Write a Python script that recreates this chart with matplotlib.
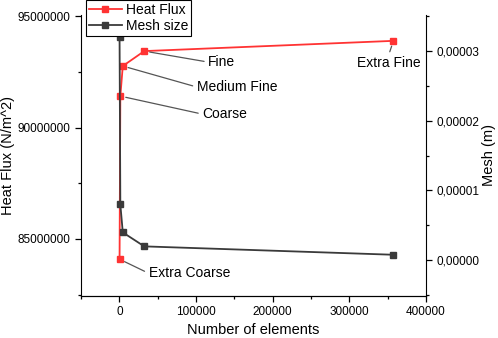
import matplotlib
matplotlib.use("Agg")
import matplotlib.pyplot as plt
from matplotlib.ticker import MultipleLocator, FuncFormatter

plt.rcParams['font.family'] = ['Liberation Sans', 'DejaVu Sans']

elements = [300, 1300, 4500, 32500, 357500]
heat_flux = [84090000, 91410000, 92760000, 93430000, 93890000]
mesh_size = [3.19e-5, 8.0e-6, 4.0e-6, 2.0e-6, 8.0e-7]
labels = ["Extra Coarse", "Coarse", "Medium Fine", "Fine", "Extra Fine"]

fig = plt.figure(figsize=(4.98, 3.38), dpi=100)
ax = fig.add_axes([81/498, 1-296/338, (426-81)/498, (296-15)/338])
ax2 = ax.twinx()

red = '#ff3333'
gray = '#3a3a3a'
l1, = ax.plot(elements, heat_flux, '-s', color=red, lw=1.3, ms=5, label='Heat Flux', zorder=3)
l2, = ax2.plot(elements, mesh_size, '-s', color=gray, lw=1.3, ms=5, label='Mesh size', zorder=3)

ax.set_xlim(-50000, 400000)
ax.set_ylim(82440000, 95050000)
ax2.set_ylim(-5.1e-6, 3.51e-5)

ax.xaxis.set_major_locator(MultipleLocator(100000))
ax.xaxis.set_minor_locator(MultipleLocator(50000))
ax.yaxis.set_major_locator(MultipleLocator(5000000))
ax.yaxis.set_minor_locator(MultipleLocator(2500000))
ax2.yaxis.set_major_locator(MultipleLocator(1e-5))
ax2.yaxis.set_minor_locator(MultipleLocator(5e-6))

ax.xaxis.set_major_formatter(FuncFormatter(lambda v, p: f"{v:.0f}"))
ax.yaxis.set_major_formatter(FuncFormatter(lambda v, p: f"{v:.0f}"))
ax2.yaxis.set_major_formatter(FuncFormatter(lambda v, p: f"{v:.5f}".replace('.', ',').replace('-', '')))

for a in (ax, ax2):
    a.spines['top'].set_visible(False)
    a.tick_params(which='both', direction='out', labelsize=8.5, width=0.9)
    a.tick_params(which='major', length=4)
    a.tick_params(which='minor', length=2.5)
ax2.spines['left'].set_visible(False)
ax.spines['right'].set_visible(False)

ax.set_xlabel('Number of elements', fontsize=10.5, labelpad=3)
ax.set_ylabel('Heat Flux (N/m^2)', fontsize=10.5, labelpad=2)
ax2.set_ylabel('Mesh (m)', fontsize=10.5, labelpad=2)

# annotations (offsets in pixels from the data point)
def px_to_pt(v):
    return v * 72 / 100

ann = [
    (0, (148-119, 273-259), (0, 0.5), 'left', 'center'),
    (1, (202-120, 114-96), (0, 0.5), 'left', 'center'),
    (2, (197-123, 87-66), (0, 0.5), 'left', 'center'),
    (3, (208-144, 62-51), (0, 0.5), 'left', 'center'),
    (4, (389-394, 56-41), (0.5, 1), 'center', 'top'),
]
for i, (dx, dy), rel, ha, va in ann:
    ax.annotate(labels[i], xy=(elements[i], heat_flux[i]),
                xytext=(px_to_pt(dx), -px_to_pt(dy)), textcoords='offset points',
                ha=ha, va=va, fontsize=10,
                arrowprops=dict(arrowstyle='-', color='#555555', lw=0.9,
                                relpos=rel, shrinkA=1, shrinkB=4))

leg = ax2.legend(handles=[l1, l2], loc='upper left',
                 bbox_to_anchor=(86/498, 1.0), bbox_transform=fig.transFigure,
                 borderaxespad=0, fontsize=10, handlelength=2.4, handletextpad=0.3,
                 borderpad=0.2, labelspacing=0.15, fancybox=False, framealpha=1)
leg.get_frame().set_edgecolor('black')
leg.get_frame().set_linewidth(0.8)

fig.savefig('out.png', dpi=100)
